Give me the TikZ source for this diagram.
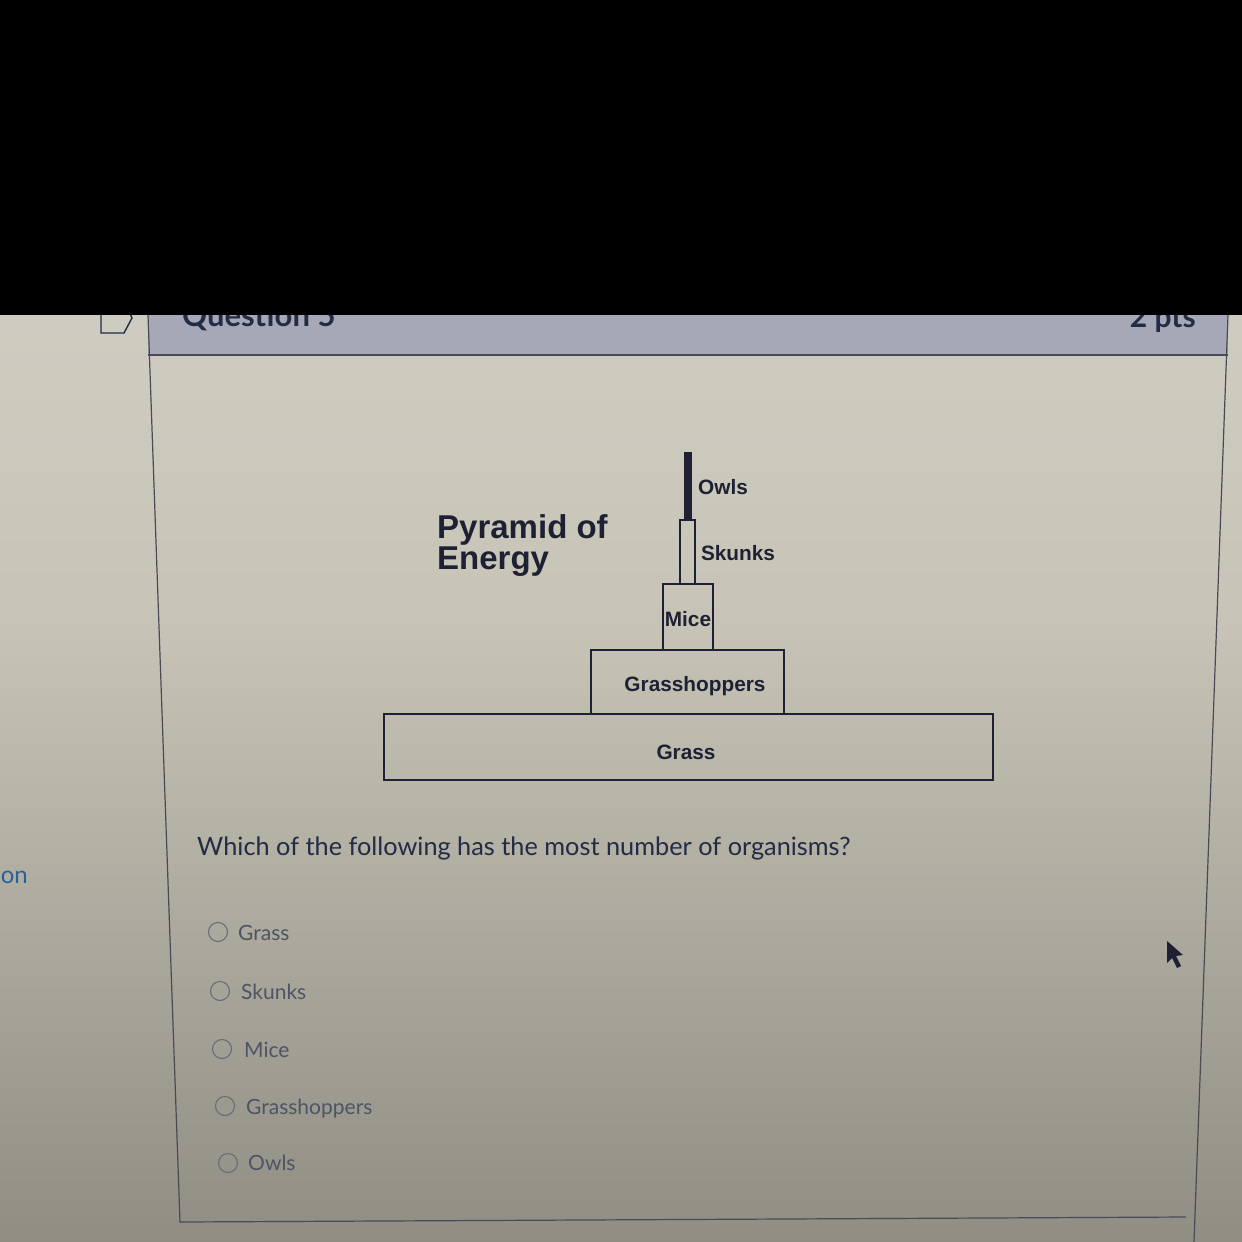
\documentclass[tikz,border=0pt]{standalone}
\usepackage{fontspec}
\setmainfont{Liberation Sans}
\newfontfamily\lato{Lato}
\definecolor{ink}{HTML}{1E2133}
\definecolor{navy}{HTML}{232B45}
\definecolor{optc}{HTML}{4F5366}
\definecolor{radc}{HTML}{6A6C78}
\definecolor{hdr}{HTML}{A7A8B7}
\definecolor{bgtop}{HTML}{D6D4CA}
\definecolor{bgmid}{HTML}{C7C4B7}
\definecolor{bgbot}{HTML}{908D83}
\definecolor{rule}{HTML}{4A4A55}
\definecolor{linkc}{HTML}{2C5E9A}
\begin{document}
\begin{tikzpicture}[x=1pt,y=-1pt,
  pyrbox/.style={draw=ink, line width=1.8pt, inner sep=0, outer sep=0},
  lbl/.style={font=\fontsize{20.8}{24}\selectfont\bfseries, text=ink, inner sep=0},
  title/.style={font=\fontsize{33}{33}\selectfont\bfseries, text=ink, inner sep=0, anchor=base west},
  opt/.style={font=\lato\fontsize{21}{24}\selectfont, text=optc, inner sep=0, anchor=base west},
  radio/.style={circle, draw=radc, line width=1.1pt, minimum size=19pt, inner sep=0},
  border/.style={draw=rule, line width=1.2pt}]
\useasboundingbox (0,0) rectangle (1242,1242);
% background
\shade[top color=bgtop, bottom color=bgbot, middle color=bgmid] (0,0) rectangle (1242,1242);
% header bar
\fill[hdr] (148,315) rectangle (1228,355);
\draw[border] (148,355) -- (1228,355);
\draw[border] (148,315) -- (180,1222) -- (1186,1217);
\draw[border] (1228,315) -- (1194,1242);
% flag icon
\draw[navy, line width=1.4pt] (101,300) -- (124,300) -- (132,318) -- (124,333) -- (101,333) -- cycle;
\node[font=\lato\bfseries\fontsize{31}{31}\selectfont, text=navy, inner sep=0, anchor=base west] (qtitle) at (182,326) {Question 5};
\node[font=\lato\bfseries\fontsize{30}{30}\selectfont, text=navy, inner sep=0, anchor=base east] (pts) at (1196,327) {2 pts};
% black top
\fill[black] (0,0) rectangle (1242,315);
% pyramid
\node[pyrbox, minimum width=609pt, minimum height=66pt] (grassbox) at (688.5,747) {};
\node[pyrbox, minimum width=193pt, minimum height=64pt] (hopbox) at (687.5,682) {};
\node[pyrbox, minimum width=50pt, minimum height=66pt] (micebox) at (688,617) {};
\node[pyrbox, minimum width=15pt, minimum height=64pt] (skunkbox) at (687.5,552) {};
\node[pyrbox, fill=ink, minimum width=6pt, minimum height=67pt] (owlbox) at (688,486.5) {};
\node[lbl] (owls) at (723,487) {Owls};
\node[lbl] (skunks) at (738,553) {Skunks};
\node[lbl] (mice) at (688,619) {Mice};
\node[lbl] (hop) at (695,686) {Grasshoppers};
\node[lbl] (grass) at (686,752) {Grass};
\node[title] (pyr1) at (437,538) {Pyramid of};
\node[title] (pyr2) at (437,569) {Energy};
% question
\node[font=\lato\fontsize{25.3}{28}\selectfont, text=navy, inner sep=0, anchor=base west] (q) at (197,855) {Which of the following has the most number of organisms?};
\node[font=\lato\fontsize{24}{28}\selectfont, text=linkc, inner sep=0, anchor=base east] (on) at (28,883) {on};
% options
\node[radio] (r1) at (218,932) {};
\node[radio] (r2) at (220,991) {};
\node[radio] (r3) at (222,1049) {};
\node[radio] (r4) at (225,1106) {};
\node[radio] (r5) at (228,1163) {};
\node[opt] (o1) at (238,940) {Grass};
\node[opt] (o2) at (241,999) {Skunks};
\node[opt] (o3) at (244,1057) {Mice};
\node[opt] (o4) at (246,1114) {Grasshoppers};
\node[opt] (o5) at (248,1170) {Owls};
% cursor
\fill[ink] (1167,941) -- (1167,963) -- (1172,958) -- (1177,968) -- (1181,966) -- (1176,956) -- (1183,955) -- cycle;
\end{tikzpicture}
\end{document}
